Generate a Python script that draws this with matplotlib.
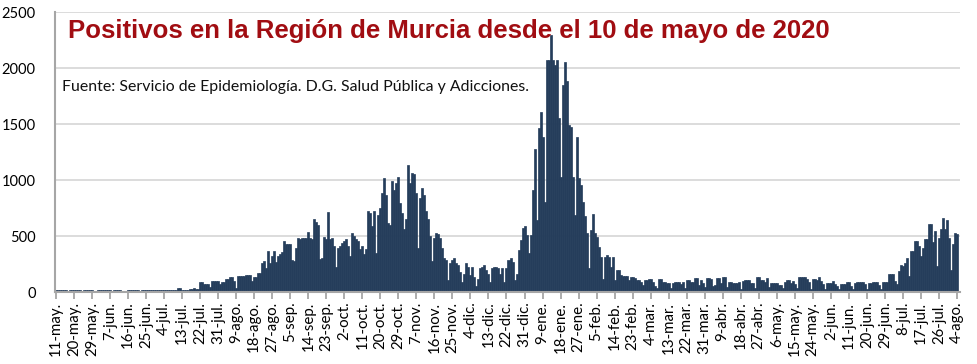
import matplotlib
matplotlib.use('Agg')
import matplotlib.pyplot as plt
import numpy as np

# Daily positives, Región de Murcia, 11-may-2020 .. 4-ago-2021
may_2020 = [18, 15, 17, 20, 16, 18, 12, 17, 19, 16, 15, 18, 14, 12, 16, 17, 19, 15, 17, 13, 2]
jun_2020 = [16, 18, 20, 15, 17, 19, 14, 12, 18, 20, 16, 17, 3, 2, 4, 18, 20, 16, 17, 19,
            15, 13, 18, 20, 19, 17, 16, 15, 14, 18]
jul_2020 = [19, 20, 18, 19, 21, 16, 15, 19, 21, 22, 40, 38, 20, 19, 21, 22, 28, 30, 32, 29,
            31, 90, 88, 72, 68, 70, 45, 98, 102, 100, 95]
aug_2020 = [70, 90, 90, 115, 115, 135, 135, 100, 40, 145, 145, 140, 145, 155, 155, 155, 95,
            130, 130, 170, 170, 260, 275, 215, 370, 260, 320, 370, 270, 325, 335]
sep_2020 = [355, 455, 425, 425, 430, 290, 275, 390, 485, 470, 485, 480, 485, 535, 485, 470,
            655, 625, 595, 295, 305, 490, 470, 715, 470, 485, 410, 220, 395, 410]
oct_2020 = [440, 455, 470, 410, 320, 530, 500, 470, 455, 380, 410, 335, 380, 720, 705, 590,
            720, 350, 690, 750, 885, 1020, 870, 620, 600, 990, 915, 975, 1025, 795, 705]
nov_2020 = [560, 650, 1130, 975, 1065, 1050, 885, 395, 840, 930, 870, 720, 650, 500, 275,
            485, 530, 515, 480, 390, 300, 285, 105, 255, 285, 300, 255, 240, 180, 90]
dec_2020 = [165, 255, 225, 150, 225, 135, 50, 120, 210, 220, 240, 195, 165, 90, 210, 225,
            225, 210, 165, 210, 90, 210, 285, 300, 270, 105, 165, 375, 465, 570, 585]
jan_2021 = [510, 345, 510, 915, 1280, 640, 1460, 1610, 1385, 805, 2070, 2070, 2295, 2070,
            2025, 2070, 1550, 1030, 1850, 2055, 1880, 1490, 1475, 1030, 690, 1385, 1015, 955,
            805, 675, 525]
feb_2021 = [210, 555, 700, 525, 495, 405, 315, 120, 315, 330, 315, 225, 310, 107, 196, 196,
            152, 146, 146, 146, 107, 131, 131, 122, 107, 107, 92, 62]
mar_2021 = [107, 107, 113, 113, 92, 54, 40, 113, 113, 92, 92, 83, 83, 40, 77, 92, 92, 85, 71,
            92, 33, 107, 107, 92, 92, 122, 122, 62, 107, 77, 48]
apr_2021 = [122, 122, 113, 54, 60, 122, 122, 83, 137, 137, 45, 92, 92, 77, 77, 77, 90, 30,
            101, 107, 107, 107, 77, 77, 40, 137, 137, 107, 107, 90]
may_2021 = [122, 45, 83, 83, 83, 83, 62, 62, 40, 92, 107, 107, 77, 100, 70, 35, 130, 135, 135,
            135, 115, 85, 30, 120, 120, 110, 130, 100, 70, 30, 78]
jun_2021 = [78, 78, 100, 75, 55, 30, 75, 75, 70, 85, 85, 55, 30, 78, 90, 90, 90, 90, 70, 30,
            78, 78, 85, 85, 85, 60, 30, 90, 90, 90]
jul_2021 = [160, 160, 160, 100, 75, 190, 240, 230, 260, 300, 145, 365, 365, 455, 455, 410,
            320, 395, 470, 475, 605, 605, 445, 545, 230, 485, 560, 665, 560, 640, 485]
aug_2021 = [200, 425, 530, 515]

tick_labels = ["11-may.", "20-may.", "29-may.", "7-jun.", "16-jun.", "25-jun.", "4-jul.",
               "13-jul.", "22-jul.", "31-jul.", "9-ago.", "18-ago.", "27-ago.", "5-sep.",
               "14-sep.", "23-sep.", "2-oct.", "11-oct.", "20-oct.", "29-oct.", "7-nov.",
               "16-nov.", "25-nov.", "4-dic.", "13-dic.", "22-dic.", "31-dic.", "9-ene.",
               "18-ene.", "27-ene.", "5-feb.", "14-feb.", "23-feb.", "4-mar.", "13-mar.",
               "22-mar.", "31-mar.", "9-abr.", "18-abr.", "27-abr.", "6-may.", "15-may.",
               "24-may.", "2-jun.", "11-jun.", "20-jun.", "29-jun.", "8-jul.", "17-jul.",
               "26-jul.", "4-ago."]
y_ticks = [0, 500, 1000, 1500, 2000, 2500]

title = "Positivos en la Región de Murcia desde el 10 de mayo de 2020"
source = "Fuente: Servicio de Epidemiología. D.G. Salud Pública y Adicciones."

values = (may_2020 + jun_2020 + jul_2020 + aug_2020 + sep_2020 + oct_2020 + nov_2020 +
          dec_2020 + jan_2021 + feb_2021 + mar_2021 + apr_2021 + may_2021 + jun_2021 +
          jul_2021 + aug_2021)
days = np.arange(len(values))

W, H = 978, 364
BAR = '#253d5b'
fig = plt.figure(figsize=(W / 100, H / 100), dpi=100)
ax = fig.add_axes([55 / W, 1 - 292 / H, 905 / W, 280 / H])

ax.bar(days, values, width=1.0, color=BAR, edgecolor=BAR, linewidth=0.5, zorder=3)

ax.set_xlim(-0.5, 451.5)
ax.set_ylim(0, 2500)
ax.set_yticks(y_ticks)
ax.set_yticklabels([str(v) for v in y_ticks], family=['Lato', 'DejaVu Sans'], fontsize=10.5)
ax.yaxis.grid(True, color='#d9d9d9', linewidth=1.3, zorder=0)
ax.set_axisbelow(True)

for s in ['top', 'right']:
    ax.spines[s].set_visible(False)
for s in ['left', 'bottom']:
    ax.spines[s].set_color('#a6a6a6')
    ax.spines[s].set_linewidth(1.5)
    ax.spines[s].set_zorder(4)

ax.tick_params(axis='y', length=0, pad=14)
ax.set_xticks(days[::9])
ax.set_xticklabels(tick_labels, rotation=90, family=['Lato', 'DejaVu Sans'], fontsize=10.8)
ax.tick_params(axis='x', length=5, width=1.3, color='#a6a6a6', direction='out', pad=2)

fig.text(68 / W, 1 - 38 / H, title, family=['Liberation Sans', 'DejaVu Sans'],
         fontweight='bold', fontsize=18.5, color='#a10d12', ha='left', va='baseline', zorder=10)
fig.text(62 / W, 1 - 91 / H, source, family=['Lato', 'DejaVu Sans'], fontsize=11.4,
         color='#111111', ha='left', va='baseline', zorder=10)

fig.savefig('out.png', dpi=100)
